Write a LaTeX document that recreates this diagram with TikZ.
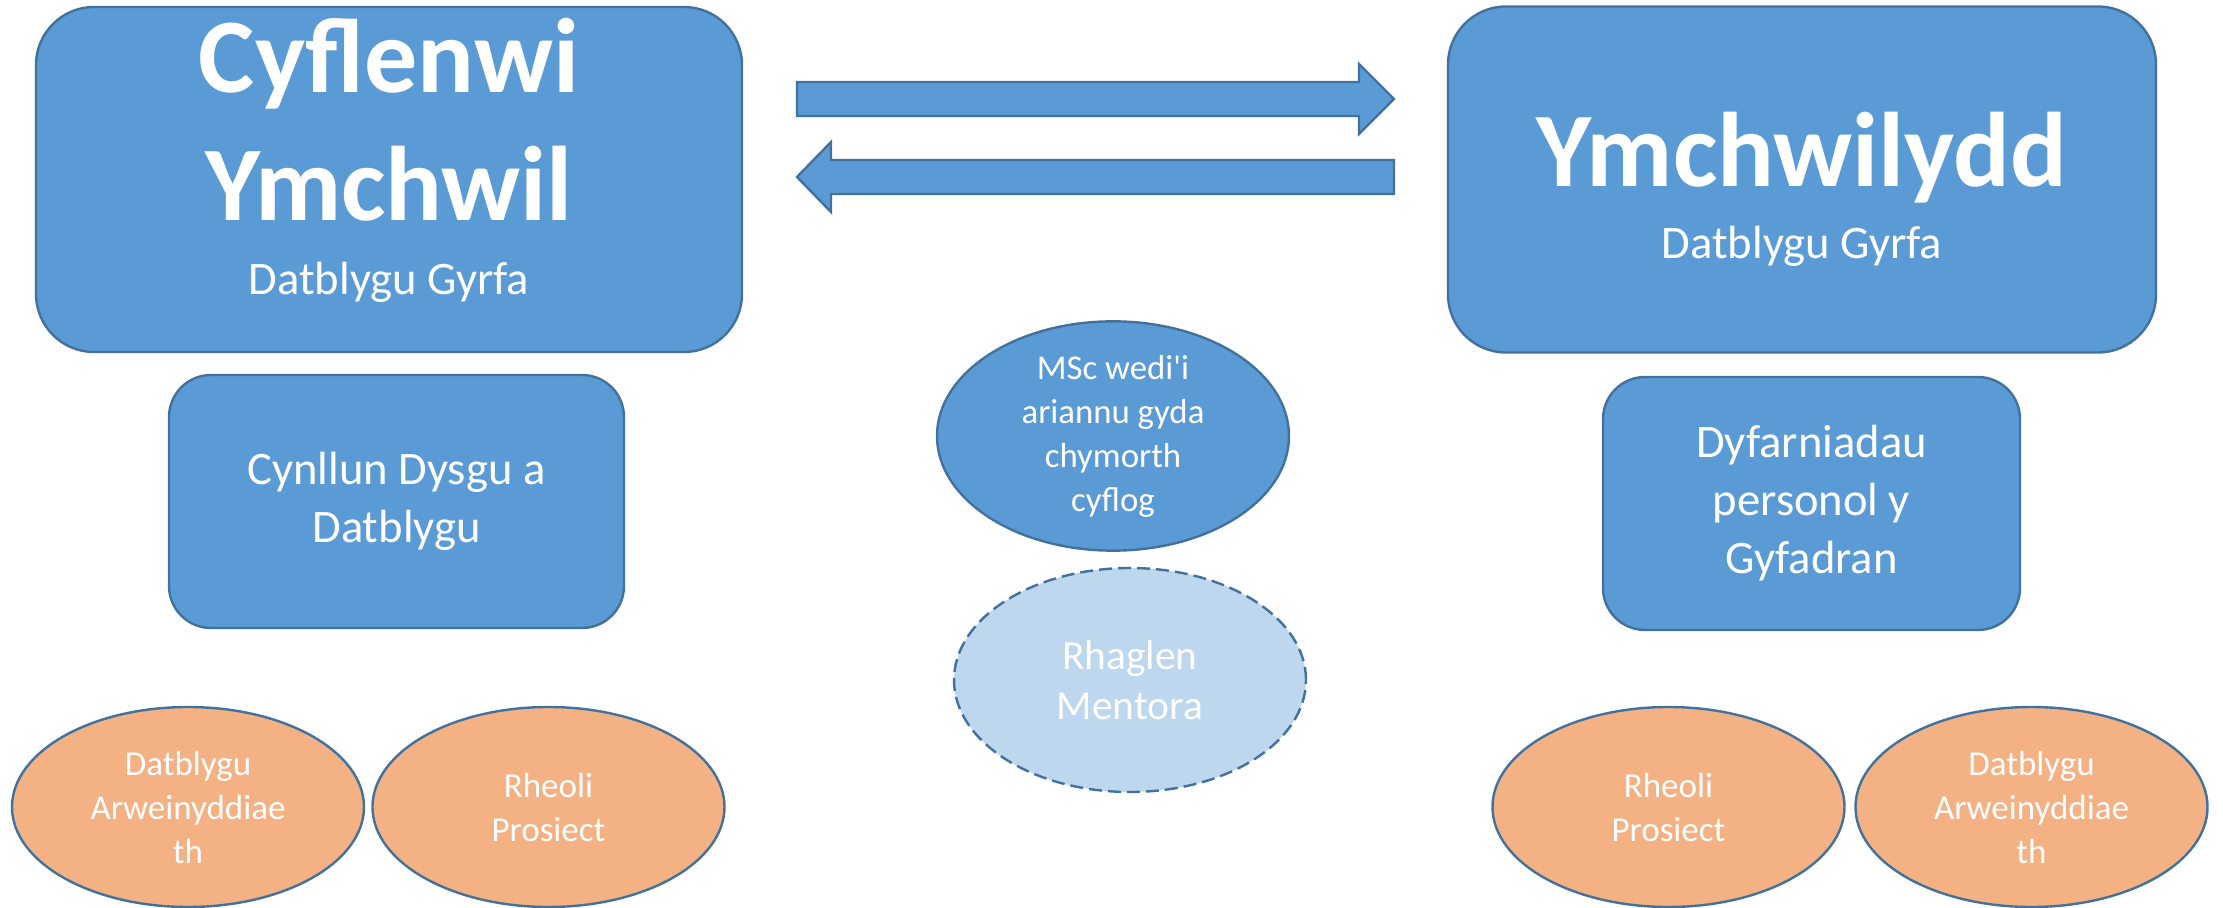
\documentclass[tikz,border=0pt]{standalone}
\usepackage{fontspec}
\setmainfont{Carlito}
\usetikzlibrary{shapes.geometric}
\definecolor{boxblue}{HTML}{5B9BD5}
\definecolor{edgeblue}{HTML}{41719C}
\definecolor{paleblue}{HTML}{BDD7EE}
\definecolor{peach}{HTML}{F4B183}
\tikzset{
  bluebox/.style={draw=edgeblue, fill=boxblue, line width=1.2pt, rectangle, inner sep=0pt, text=white, align=center},
  ovalshape/.style={draw=edgeblue, line width=1.2pt, ellipse, inner sep=0pt, text=white, align=center},
  blueoval/.style={ovalshape, fill=boxblue, minimum width=176pt, minimum height=112pt},
  mentoroval/.style={ovalshape, fill=paleblue, dash pattern=on 6.5pt off 3pt, minimum width=176pt, minimum height=112pt},
  peachoval/.style={ovalshape, fill=peach, minimum width=176pt, minimum height=100pt, font=\fontsize{17.5}{22}\selectfont},
  blockarrow/.style={draw=edgeblue, fill=boxblue, line width=1.2pt, line join=miter},
  bigtitle/.style={text=white, anchor=base, inner sep=0pt, font=\fontsize{53}{64}\selectfont\bfseries},
  subtitle/.style={text=white, anchor=base, inner sep=0pt, font=\fontsize{23.3}{28}\selectfont}
}
\begin{document}
\begin{tikzpicture}[x=0.5pt, y=-0.5pt]
\useasboundingbox (0,0) rectangle (2223,908);
% big boxes
\node[bluebox, rounded corners=29pt, minimum width=353pt, minimum height=172.5pt] (bigL) at (389,179.5) {};
\node[bluebox, rounded corners=29pt, minimum width=354pt, minimum height=173pt] (bigR) at (1802,179.5) {};
\node[bigtitle] (tL1) at (389,93) {Cyflenwi};
\node[bigtitle] (tL2) at (389,221) {Ymchwil};
\node[subtitle] (tL3) at (389,295) {Datblygu Gyrfa};
\node[bigtitle] (tR1) at (1802,187) {Ymchwilydd};
\node[subtitle] (tR2) at (1802,259) {Datblygu Gyrfa};
% block arrows
\coordinate (arA) at (797,99);
\coordinate (arB) at (1394,177);
\draw[blockarrow] (arA) ++(0,-17) -- (1359,82) -- (1359,64) -- (1394,99) -- (1359,134) -- (1359,116) -- (797,116) -- cycle;
\draw[blockarrow] (arB) ++(0,-17) -- (831,160) -- (831,142) -- (797,177) -- (831,212) -- (831,194) -- (1394,194) -- cycle;
% small boxes
\node[bluebox, rounded corners=21pt, minimum width=227.5pt, minimum height=126.5pt, font=\fontsize{23.3}{29}\selectfont] (planL) at (396.5,501.5) {Cynllun Dysgu a\\Datblygu};
\node[bluebox, rounded corners=21pt, minimum width=208.5pt, minimum height=126.5pt, font=\fontsize{23.3}{29}\selectfont] (awardR) at (1811.5,503.5) {Dyfarniadau\\personol y\\Gyfadran};
% middle ovals
\node[blueoval, font=\fontsize{17.4}{22}\selectfont] (msc) at (1113,436) {MSc wedi\textquotesingle i\\ariannu gyda\\chymorth\\cyflog};
\node[mentoroval, font=\fontsize{20.7}{25}\selectfont] (mentor) at (1130,680) {Rhaglen\\Mentora};
% peach ovals
\node[peachoval] (lead1) at (188,807) {Datblygu\\Arweinyddiae\\th};
\node[peachoval] (proj1) at (548.5,807) {Rheoli\\Prosiect};
\node[peachoval] (proj2) at (1668.5,807) {Rheoli\\Prosiect};
\node[peachoval] (lead2) at (2031.5,807) {Datblygu\\Arweinyddiae\\th};
\end{tikzpicture}
\end{document}
